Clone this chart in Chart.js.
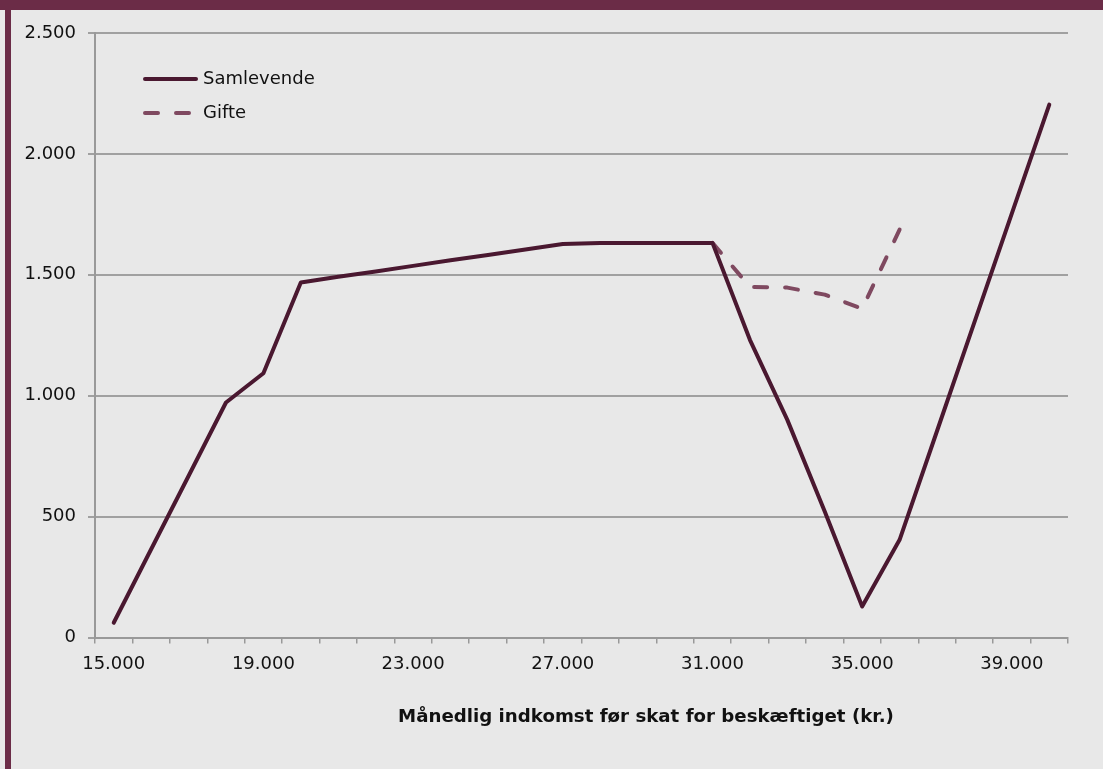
<!DOCTYPE html>
<html><head><meta charset="utf-8">
<script src="https://cdn.jsdelivr.net/npm/chart.js@4/dist/chart.umd.min.js"></script>
<style>
html,body{margin:0;padding:0;background:#e8e8e8;}
#wrap{position:relative;width:1103px;height:769px;overflow:hidden;background:#e8e8e8;}
#topbar{position:absolute;left:0;top:0;width:1103px;height:10px;background:#6b2c47;}
#leftbar{position:absolute;left:5px;top:0;width:6px;height:769px;background:#6b2c47;}
canvas{position:absolute;left:0;top:0;}
</style></head><body>
<div id="wrap"><canvas id="c" width="1103" height="769"></canvas><div id="topbar"></div><div id="leftbar"></div></div>
<script>
const incomes = [15000,16000,17000,18000,19000,20000,21000,22000,23000,24000,25000,26000,27000,28000,29000,30000,31000,32000,33000,34000,35000,36000,37000,38000,39000,40000];
const samlevende = [61,365,668,972,1093,1468,1492,1514,1537,1560,1582,1605,1627,1632,1632,1632,1632,1231,900,521,128,404,854,1304,1754,2204];
const gifte = [null,null,null,null,null,null,null,null,null,null,null,null,null,null,null,null,1632,1450,1447,1418,1360,1687,null,null,null,null];
const seriesNames = ['Samlevende','Gifte'];
const yTicks = [0,500,1000,1500,2000,2500];
const xLabelEvery = 4;
const axisTitle = 'Månedlig indkomst før skat for beskæftiget (kr.)';

function fmt(n){ return String(n).replace(/\B(?=(\d{3})+(?!\d))/g,'.'); }

const FONT = 'DejaVu Sans';

const legendPlugin = {
  id:'customLegend',
  afterDraw(chart){
    const ctx = chart.ctx;
    const rows = [79, 113];
    chart.data.datasets.forEach((ds,i)=>{
      const y = rows[i];
      ctx.save();
      ctx.strokeStyle = ds.borderColor;
      ctx.lineWidth = ds.borderWidth;
      ctx.lineCap = 'round';
      ctx.setLineDash(ds.borderDash || []);
      ctx.beginPath();
      ctx.moveTo(145, y); ctx.lineTo(196, y);
      ctx.stroke();
      ctx.setLineDash([]);
      ctx.fillStyle = '#111';
      ctx.font = '18px "' + FONT + '"';
      ctx.textBaseline = 'middle';
      ctx.textAlign = 'left';
      ctx.fillText(ds.label, 203, y);
      ctx.restore();
    });
    ctx.save();
    ctx.fillStyle = '#111';
    ctx.font = 'bold 18.2px "' + FONT + '"';
    ctx.textAlign = 'center';
    ctx.textBaseline = 'alphabetic';
    ctx.fillText(axisTitle, 646, 722);
    ctx.restore();
  }
};

new Chart(document.getElementById('c'), {
  type:'line',
  data:{
    labels: incomes.map(fmt),
    datasets:[
      {label:seriesNames[0], data:samlevende, borderColor:'#4a1830', borderWidth:4, pointRadius:0, tension:0, borderJoinStyle:'round', borderCapStyle:'round', order:0},
      {label:seriesNames[1], data:gifte, borderColor:'#7f4960', borderWidth:4, borderDash:[13,18], pointRadius:0, tension:0, borderCapStyle:'round', borderJoinStyle:'round', spanGaps:false, order:1}
    ]
  },
  options:{
    responsive:false, animation:false, devicePixelRatio:1,
    layout:{padding:{left:11, top:33, right:35, bottom:0}},
    plugins:{legend:{display:false}, tooltip:{enabled:false}},
    scales:{
      x:{
        type:'category', offset:true,
        grid:{offset:true, drawOnChartArea:false, drawTicks:true, tickLength:6, color:'#999', lineWidth:1.5},
        border:{color:'#999', width:2},
        ticks:{autoSkip:false, maxRotation:0, minRotation:0, padding:10, color:'#111', font:{family:FONT, size:18},
          callback:(v,i)=> i % xLabelEvery === 0 ? fmt(incomes[i]) : ''},
        afterFit: s => { s.height = 769 - 637.5; }
      },
      y:{
        min:yTicks[0], max:yTicks[yTicks.length-1],
        afterBuildTicks: s => { s.ticks = yTicks.map(v=>({value:v})); },
        ticks:{padding:12, color:'#111', font:{family:FONT, size:18}, callback:v=>fmt(v)},
        grid:{color:'#a0a0a0', lineWidth:2, tickLength:7},
        border:{color:'#999', width:2},
        afterFit: s => { s.width = 95 - 11; }
      }
    }
  },
  plugins:[legendPlugin]
});
</script>
</body></html>
